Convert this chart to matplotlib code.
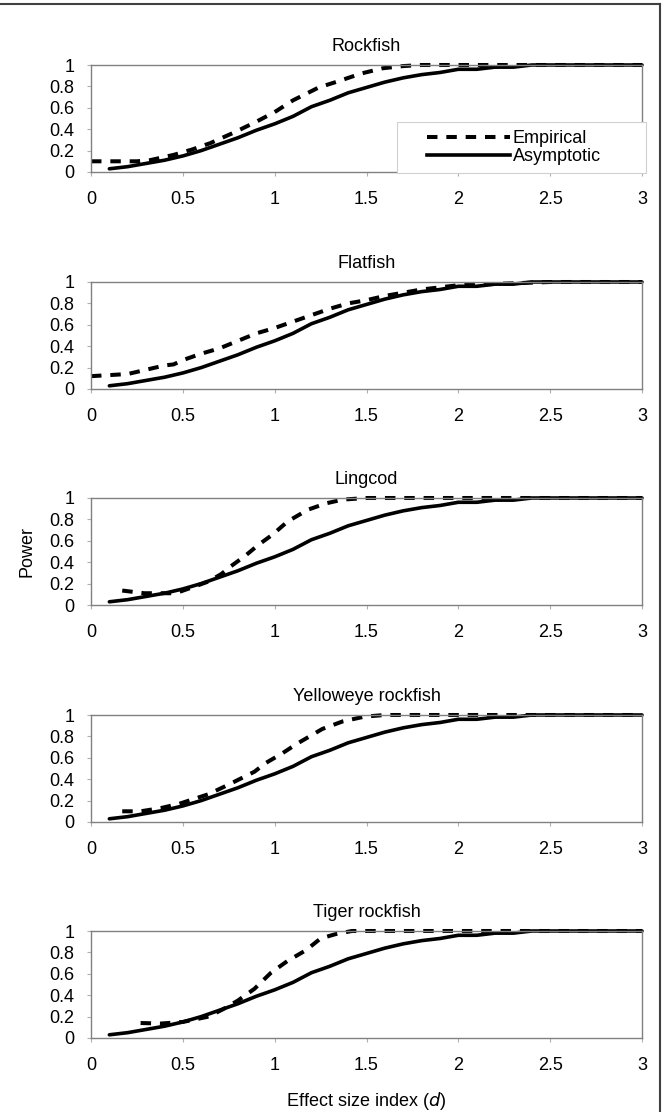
import matplotlib.pyplot as plt
from matplotlib.lines import Line2D
from matplotlib.patches import Rectangle

plt.rcParams['font.family'] = ['Liberation Sans', 'DejaVu Sans']

# Asymptotic power curve (same for every species)
asym_d = [0.1, 0.2, 0.3, 0.4, 0.5, 0.6, 0.7, 0.8, 0.9, 1.0,
          1.1, 1.2, 1.3, 1.4, 1.5, 1.6, 1.7, 1.8, 1.9, 2.0,
          2.1, 2.2, 2.3, 2.4, 2.5, 2.6, 2.7, 2.8, 2.9, 3.0]
asym_power = [0.03, 0.05, 0.08, 0.11, 0.15, 0.20, 0.26, 0.32, 0.39, 0.45,
              0.52, 0.61, 0.67, 0.74, 0.79, 0.84, 0.88, 0.91, 0.93, 0.96,
              0.96, 0.98, 0.98, 1.0, 1.0, 1.0, 1.0, 1.0, 1.0, 1.0]

species = ['Rockfish', 'Flatfish', 'Lingcod', 'Yelloweye rockfish', 'Tiger rockfish']

# Empirical power curves
rock_d = [0.0, 0.25, 0.32, 0.45, 0.55, 0.65, 0.78, 0.9, 1.0, 1.1, 1.24, 1.35,
          1.47, 1.59, 1.7, 1.8, 2.0, 2.5, 3.0]
rock_p = [0.1, 0.1, 0.11, 0.16, 0.21, 0.27, 0.37, 0.47, 0.56, 0.67, 0.79, 0.85,
          0.92, 0.97, 0.99, 1.0, 1.0, 1.0, 1.0]

flat_d = [0.0, 0.1, 0.2, 0.3, 0.4, 0.45, 0.5, 0.6, 0.7, 0.8, 0.9, 1.0, 1.1, 1.2,
          1.3, 1.4, 1.5, 1.6, 1.7, 1.8, 1.9, 2.0, 2.5, 3.0]
flat_p = [0.12, 0.13, 0.14, 0.18, 0.22, 0.23, 0.27, 0.33, 0.38, 0.45, 0.52, 0.57,
          0.63, 0.69, 0.75, 0.8, 0.83, 0.87, 0.9, 0.93, 0.95, 0.97, 1.0, 1.0]

ling_d = [0.17, 0.29, 0.46, 0.56, 0.64, 0.71, 0.76, 0.84, 0.91, 0.99, 1.07, 1.18,
          1.28, 1.37, 1.5, 2.0, 2.5, 3.0]
ling_p = [0.135, 0.11, 0.11, 0.17, 0.22, 0.29, 0.36, 0.46, 0.56, 0.66, 0.78, 0.89,
          0.95, 0.985, 1.0, 1.0, 1.0, 1.0]

yel_d = [0.17, 0.27, 0.38, 0.48, 0.64, 0.75, 0.89, 0.95, 1.04, 1.12, 1.26, 1.37,
         1.49, 1.6, 2.0, 2.5, 3.0]
yel_p = [0.10, 0.10, 0.13, 0.17, 0.26, 0.35, 0.47, 0.55, 0.64, 0.73, 0.87, 0.94,
         0.985, 1.0, 1.0, 1.0, 1.0]

tig_d = [0.27, 0.38, 0.5, 0.64, 0.72, 0.8, 0.89, 0.98, 1.07, 1.17, 1.25, 1.33,
         1.42, 1.6, 2.0, 2.5, 3.0]
tig_p = [0.14, 0.135, 0.15, 0.2, 0.27, 0.35, 0.46, 0.61, 0.72, 0.82, 0.93, 0.97,
         1.0, 1.0, 1.0, 1.0, 1.0]

empirical = [(rock_d, rock_p), (flat_d, flat_p), (ling_d, ling_p),
             (yel_d, yel_p), (tig_d, tig_p)]

x_ticks = [0, 0.5, 1, 1.5, 2, 2.5, 3]
x_labels = ['0', '0.5', '1', '1.5', '2', '2.5', '3']
y_ticks = [0, 0.2, 0.4, 0.6, 0.8, 1]
y_labels = ['0', '0.2', '0.4', '0.6', '0.8', '1']

W, H = 665, 1112
fig = plt.figure(figsize=(W / 100, H / 100), dpi=100)

# axes placement in pixels (top of plot area, height)
left_px, right_px = 91, 642
tops = [65, 282, 498, 715, 931]
height_px = 107

gray = '#808080'
dash = (0, (2.6, 2.2))
fs = 13
for i, (name, (ed, ep)) in enumerate(zip(species, empirical)):
    top = tops[i]
    ax = fig.add_axes([left_px / W, 1 - (top + height_px) / H,
                       (right_px - left_px) / W, height_px / H])
    ax.plot(ed, ep, color='black', linestyle=dash, linewidth=2.9,
            clip_on=False, dash_capstyle='butt')
    ax.plot(asym_d, asym_power, color='black', linestyle='-', linewidth=2.6,
            clip_on=False, solid_capstyle='round')
    ax.set_xlim(0, 3)
    ax.set_ylim(0, 1)
    ax.set_xticks(x_ticks)
    ax.set_xticklabels(x_labels)
    ax.set_yticks(y_ticks)
    ax.set_yticklabels(y_labels)
    for s in ax.spines.values():
        s.set_color(gray)
        s.set_linewidth(1.0)
    ax.tick_params(axis='both', direction='out', color='#b0b0b0', length=3,
                   width=0.8, labelsize=fs)
    ax.tick_params(axis='y', pad=9)
    ax.tick_params(axis='x', pad=11)
    ax.set_title(name, fontsize=fs, pad=10)
    if i == 0:
        box = Rectangle((0.555, -0.01), 0.452, 0.475, transform=ax.transAxes,
                        facecolor='white', edgecolor='#d0d0d0', linewidth=0.8,
                        clip_on=False, zorder=5)
        ax.add_patch(box)
        handles = [Line2D([], [], color='black', linestyle=dash, linewidth=2.9),
                   Line2D([], [], color='black', linewidth=2.6)]
        ax.legend(handles, ['Empirical', 'Asymptotic'], loc='center left',
                  bbox_to_anchor=(0.61, 0.225), fontsize=fs, frameon=False,
                  handlelength=4.6, handletextpad=0.15, borderpad=0,
                  labelspacing=0.05, borderaxespad=0).set_zorder(6)
    if i == 2:
        ax.set_ylabel('Power', fontsize=fs, labelpad=10)
    if i == 4:
        ax.set_xlabel('Effect size index ($\\mathit{d}$)', fontsize=fs, labelpad=11)

# frame lines around figure (top and right)
fig.add_artist(Line2D([0, 659.5 / W], [1 - 4 / H, 1 - 4 / H], color='#404040', linewidth=1.5))
fig.add_artist(Line2D([659.5 / W, 659.5 / W], [0, 1 - 4 / H], color='#404040', linewidth=1.5))

fig.savefig('out.png', dpi=100)
